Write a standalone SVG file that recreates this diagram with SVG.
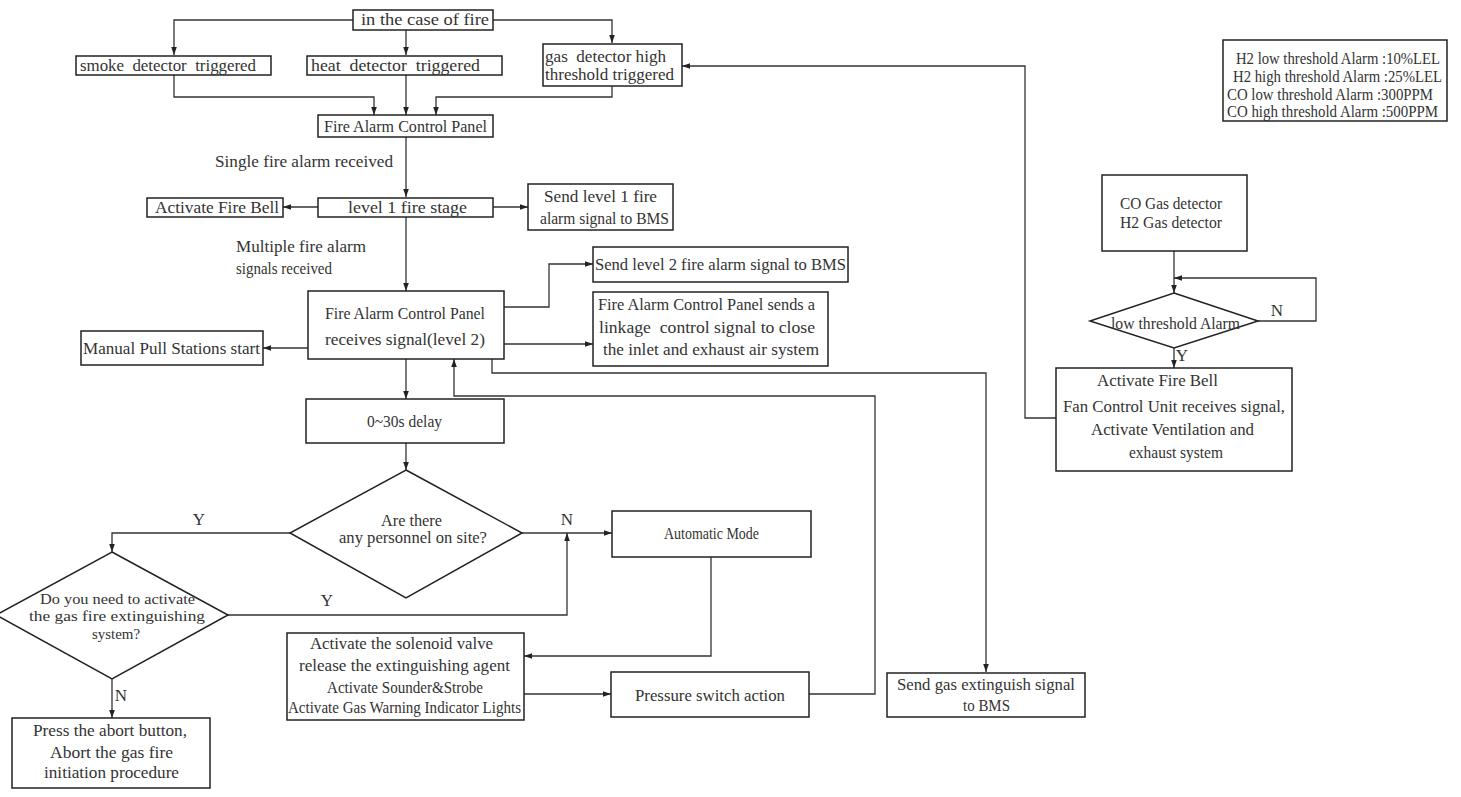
<svg xmlns="http://www.w3.org/2000/svg" width="1461" height="797" viewBox="0 0 1461 797">
<defs>
<marker id="ah" viewBox="0 0 10 7" refX="10" refY="3.5" markerWidth="8" markerHeight="6" markerUnits="userSpaceOnUse" orient="auto"><path d="M0,0 L10,3.5 L0,7 z" fill="#222"/></marker>
<style>
.b{fill:#fff;stroke:#222;stroke-width:1.5}
.c{fill:none;stroke:#333;stroke-width:1.3}
.a{marker-end:url(#ah)}
text{font-family:"Liberation Serif","DejaVu Serif",serif;font-size:17px;fill:#333;white-space:pre}
.s{font-size:16px}
.t{font-size:15px}
</style>
</defs>
<rect width="1461" height="797" fill="#fff"/>
<g id="connectors">
<path class="c a" d="M353,20 H174 V55"/>
<path class="c a" d="M406,30 V55"/>
<path class="c a" d="M493,20 H612 V43"/>
<path class="c a" d="M174,75 V97 H374 V115"/>
<path class="c a" d="M406,75 V115"/>
<path class="c a" d="M612,86 V97 H436 V115"/>
<path class="c a" d="M406,137 V197"/>
<path class="c a" d="M318,207 H283"/>
<path class="c a" d="M493,207 H528"/>
<path class="c a" d="M406,217 V291"/>
<path class="c a" d="M504,307 H549 V264 H593"/>
<path class="c a" d="M504,344 H593"/>
<path class="c a" d="M308,348 H263"/>
<path class="c a" d="M492,359 V373 H986 V672"/>
<path class="c a" d="M406,359 V399"/>
<path class="c a" d="M406,443 V470"/>
<path class="c a" d="M522,533 H612"/>
<path class="c a" d="M290,533 H112 V552"/>
<path class="c a" d="M228,615 H567 V533"/>
<path class="c a" d="M112,679 V718"/>
<path class="c a" d="M711,557 V656 H524"/>
<path class="c a" d="M524,694 H611"/>
<path class="c a" d="M809,694 H875 V396 H454 V359"/>
<path class="c a" d="M1174,251 V293"/>
<path class="c a" d="M1258,321 H1316 V278 H1174"/>
<path class="c a" d="M1174,348 V368"/>
<path class="c a" d="M1056,418 H1025 V66 H682"/>
<text x="199" y="525" text-anchor="middle">Y</text>
<text x="567" y="525" text-anchor="middle">N</text>
<text x="327" y="606" text-anchor="middle">Y</text>
<text x="121" y="701" text-anchor="middle">N</text>
<text x="1277" y="316" text-anchor="middle">N</text>
<text x="1182" y="361" text-anchor="middle">Y</text>
</g>
<g id="fire"><rect class="b" x="353" y="10" width="140" height="20"/><text class="s" x="361" y="25" textLength="128" lengthAdjust="spacingAndGlyphs">in the case of fire</text></g>
<g id="smoke"><rect class="b" x="76" y="56" width="195" height="19"/><text class="s" x="80" y="71" textLength="176" lengthAdjust="spacingAndGlyphs">smoke  detector  triggered</text></g>
<g id="heat"><rect class="b" x="307" y="56" width="195" height="19"/><text class="s" x="311" y="71" textLength="169" lengthAdjust="spacingAndGlyphs">heat  detector  triggered</text></g>
<g id="gas"><rect class="b" x="543" y="44" width="139" height="42"/><text class="s" x="545" y="62" textLength="121" lengthAdjust="spacingAndGlyphs">gas  detector high</text><text class="s" x="545" y="80" textLength="129" lengthAdjust="spacingAndGlyphs">threshold triggered</text></g>
<g id="facp1"><rect class="b" x="318" y="115" width="175" height="22"/><text x="324" y="132" textLength="163" lengthAdjust="spacingAndGlyphs">Fire Alarm Control Panel</text></g>
<g id="single"><text x="215" y="167" textLength="178" lengthAdjust="spacingAndGlyphs">Single fire alarm received</text></g>
<g id="level1"><rect class="b" x="318" y="198" width="175" height="19"/><text class="s" x="348" y="213" textLength="119" lengthAdjust="spacingAndGlyphs">level 1 fire stage</text></g>
<g id="bell"><rect class="b" x="147" y="198" width="136" height="19"/><text class="s" x="155" y="213" textLength="124" lengthAdjust="spacingAndGlyphs">Activate Fire Bell</text></g>
<g id="sendl1"><rect class="b" x="528" y="184" width="145" height="46"/><text x="544" y="202" textLength="113" lengthAdjust="spacingAndGlyphs">Send level 1 fire</text><text x="540" y="224" textLength="129" lengthAdjust="spacingAndGlyphs">alarm signal to BMS</text></g>
<g id="multiple"><text x="236" y="252" textLength="130" lengthAdjust="spacingAndGlyphs">Multiple fire alarm</text><text x="236" y="274" textLength="96" lengthAdjust="spacingAndGlyphs">signals received</text></g>
<g id="level2"><rect class="b" x="308" y="291" width="196" height="68"/><text x="325" y="319" textLength="160" lengthAdjust="spacingAndGlyphs">Fire Alarm Control Panel</text><text x="325" y="345" textLength="160" lengthAdjust="spacingAndGlyphs">receives signal(level 2)</text></g>
<g id="sendl2"><rect class="b" x="593" y="247" width="255" height="35"/><text x="595" y="270" textLength="251" lengthAdjust="spacingAndGlyphs">Send level 2 fire alarm signal to BMS</text></g>
<g id="linkage"><rect class="b" x="593" y="292" width="235" height="74"/><text x="598" y="310" textLength="217" lengthAdjust="spacingAndGlyphs">Fire Alarm Control Panel sends a</text><text x="599" y="333" textLength="216" lengthAdjust="spacingAndGlyphs">linkage  control signal to close</text><text x="603" y="355" textLength="216" lengthAdjust="spacingAndGlyphs">the inlet and exhaust air system</text></g>
<g id="manual"><rect class="b" x="81" y="331" width="182" height="34"/><text x="83" y="354" textLength="177" lengthAdjust="spacingAndGlyphs">Manual Pull Stations start</text></g>
<g id="delay"><rect class="b" x="306" y="399" width="198" height="44"/><text x="367" y="427" textLength="75" lengthAdjust="spacingAndGlyphs">0~30s delay</text></g>
<g id="personnel"><polygon class="b" points="406,470 522,533 406,598 290,533"/><text x="381" y="526" textLength="61" lengthAdjust="spacingAndGlyphs">Are there</text><text x="339" y="543" textLength="148" lengthAdjust="spacingAndGlyphs">any personnel on site?</text></g>
<g id="automatic"><rect class="b" x="612" y="511" width="199" height="46"/><text x="664" y="539" textLength="95" lengthAdjust="spacingAndGlyphs">Automatic Mode</text></g>
<g id="need"><polygon class="b" points="112,552 228,615 112,679 -4,615"/><text class="t" x="40" y="604" textLength="155" lengthAdjust="spacingAndGlyphs">Do you need to activate</text><text class="t" x="29" y="621" textLength="176" lengthAdjust="spacingAndGlyphs">the gas fire extinguishing</text><text class="t" x="92" y="639" textLength="48" lengthAdjust="spacingAndGlyphs">system?</text></g>
<g id="abort"><rect class="b" x="12" y="718" width="198" height="70"/><text x="33" y="736" textLength="154" lengthAdjust="spacingAndGlyphs">Press the abort button,</text><text x="50" y="758" textLength="123" lengthAdjust="spacingAndGlyphs">Abort the gas fire</text><text x="44" y="778" textLength="135" lengthAdjust="spacingAndGlyphs">initiation procedure</text></g>
<g id="solenoid"><rect class="b" x="287" y="633" width="237" height="87"/><text x="310" y="649" textLength="183" lengthAdjust="spacingAndGlyphs">Activate the solenoid valve</text><text x="299" y="671" textLength="211" lengthAdjust="spacingAndGlyphs">release the extinguishing agent</text><text x="327" y="693" textLength="156" lengthAdjust="spacingAndGlyphs">Activate Sounder&amp;Strobe</text><text x="288" y="713" textLength="233" lengthAdjust="spacingAndGlyphs">Activate Gas Warning Indicator Lights</text></g>
<g id="pressure"><rect class="b" x="611" y="672" width="198" height="45"/><text x="635" y="701" textLength="150" lengthAdjust="spacingAndGlyphs">Pressure switch action</text></g>
<g id="sendgas"><rect class="b" x="887" y="673" width="198" height="44"/><text x="897" y="690" textLength="178" lengthAdjust="spacingAndGlyphs">Send gas extinguish signal</text><text x="963" y="711" textLength="47" lengthAdjust="spacingAndGlyphs">to BMS</text></g>
<g id="codetector"><rect class="b" x="1102" y="175" width="145" height="76"/><text x="1120" y="209" textLength="102" lengthAdjust="spacingAndGlyphs">CO Gas detector</text><text x="1120" y="228" textLength="102" lengthAdjust="spacingAndGlyphs">H2 Gas detector</text></g>
<g id="lowalarm"><polygon class="b" points="1174,293 1258,321 1174,348 1090,321"/><text x="1111" y="329" textLength="129" lengthAdjust="spacingAndGlyphs">low threshold Alarm</text></g>
<g id="fan"><rect class="b" x="1056" y="368" width="236" height="103"/><text x="1097" y="386" textLength="121" lengthAdjust="spacingAndGlyphs">Activate Fire Bell</text><text x="1063" y="412" textLength="222" lengthAdjust="spacingAndGlyphs">Fan Control Unit receives signal,</text><text x="1091" y="435" textLength="163" lengthAdjust="spacingAndGlyphs">Activate Ventilation and</text><text x="1129" y="458" textLength="94" lengthAdjust="spacingAndGlyphs">exhaust system</text></g>
<g id="thresholds"><rect class="b" x="1223" y="40" width="224" height="81"/><text class="s" x="1236" y="64" textLength="204" lengthAdjust="spacingAndGlyphs">H2 low threshold Alarm :10%LEL</text><text class="s" x="1233" y="82" textLength="209" lengthAdjust="spacingAndGlyphs">H2 high threshold Alarm :25%LEL</text><text class="s" x="1227" y="100" textLength="206" lengthAdjust="spacingAndGlyphs">CO low threshold Alarm :300PPM</text><text class="s" x="1227" y="117" textLength="211" lengthAdjust="spacingAndGlyphs">CO high threshold Alarm :500PPM</text></g>
</svg>
